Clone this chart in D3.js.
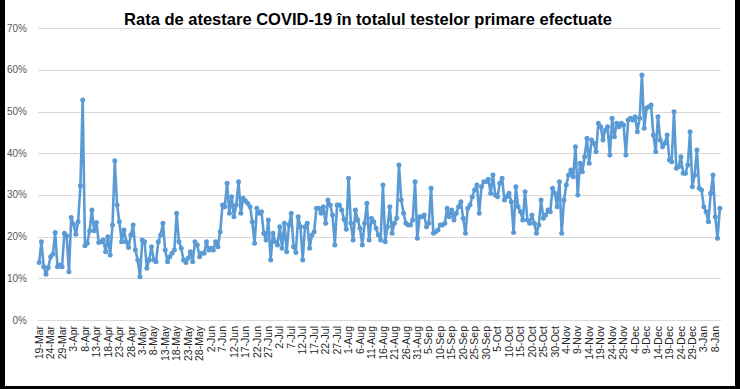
<!DOCTYPE html>
<html>
<head>
<meta charset="utf-8">
<script src="https://cdn.jsdelivr.net/npm/d3@7"></script>
<style>
  body { margin: 0; background: #fff; }
  svg { display: block; font-family: "Liberation Sans", Arial, sans-serif; }
</style>
</head>
<body>
<div class="chart-cont"></div>
<script>
var title = "Rata de atestare COVID-19 în totalul testelor primare efectuate";

// daily positivity rate (%), 19-Mar .. 10-Jan
var rates = [
    13.8, 18.8, 12.8, 11.0, 12.6, 15.2, 15.8, 21.0, 12.8, 13.2,
    12.8, 20.8, 20.2, 11.6, 24.6, 23.0, 20.6, 23.6, 32.2, 52.8,
    17.8, 18.4, 21.4, 26.4, 21.4, 23.4, 18.6, 18.8, 19.2, 16.4,
    20.0, 15.6, 22.8, 38.2, 27.6, 23.6, 18.8, 21.6, 18.8, 17.4,
    20.4, 22.8, 16.8, 14.4, 10.4, 19.2, 18.8, 12.4, 14.4, 17.6,
    14.4, 14.0, 18.8, 20.4, 23.2, 16.8, 14.0, 15.2, 16.0, 16.8,
    25.6, 18.8, 17.2, 14.4, 13.8, 14.8, 16.4, 14.0, 18.8, 18.0,
    15.2, 16.0, 16.0, 18.8, 16.8, 17.2, 16.8, 18.8, 17.6, 21.2,
    27.6, 27.2, 32.8, 25.6, 29.6, 24.8, 27.6, 33.2, 25.6, 29.2,
    28.6, 28.0, 27.2, 23.6, 18.4, 26.8, 25.6, 26.0, 20.8, 19.2,
    24.0, 14.4, 20.8, 18.8, 18.0, 22.4, 17.2, 23.2, 16.4, 22.8,
    25.6, 17.6, 16.2, 24.8, 22.4, 14.4, 22.4, 23.2, 17.2, 20.4,
    21.2, 26.8, 26.8, 25.6, 27.2, 23.2, 28.8, 27.6, 25.2, 18.0,
    27.6, 27.6, 26.4, 24.2, 21.8, 34.0, 23.2, 19.2, 26.4, 24.0,
    22.0, 18.0, 23.2, 28.0, 19.2, 24.4, 23.6, 22.0, 20.4, 19.2,
    32.4, 18.8, 22.4, 27.2, 20.8, 23.2, 24.4, 37.2, 28.8, 25.6,
    23.2, 22.8, 22.8, 24.0, 33.2, 19.6, 24.8, 24.8, 25.2, 22.4,
    23.2, 31.6, 20.8, 21.2, 21.6, 22.8, 22.8, 23.2, 26.8, 24.8,
    26.4, 24.0, 25.6, 27.2, 28.4, 24.4, 20.8, 26.8, 27.6, 29.6,
    31.2, 32.4, 25.6, 32.0, 33.2, 33.2, 33.8, 30.4, 34.8, 30.0,
    29.6, 32.8, 34.0, 28.8, 29.6, 30.4, 28.4, 21.0, 32.0, 27.2,
    26.0, 24.0, 30.8, 24.0, 23.2, 25.2, 23.2, 20.8, 22.8, 28.8,
    24.4, 25.2, 26.4, 26.0, 31.6, 30.4, 27.2, 33.2, 20.8, 28.8,
    32.4, 34.8, 36.0, 34.4, 41.6, 30.0, 37.6, 35.6, 39.2, 43.6,
    37.6, 43.2, 42.4, 40.4, 47.2, 46.4, 43.2, 45.6, 46.4, 39.6,
    48.4, 44.0, 47.2, 46.4, 47.2, 46.8, 39.6, 48.0, 48.4, 48.0,
    48.8, 45.2, 48.4, 58.8, 46.0, 50.8, 51.2, 51.6, 44.4, 40.4,
    48.8, 43.2, 41.6, 42.4, 44.4, 38.4, 38.0, 50.0, 36.4, 36.8,
    39.2, 35.2, 35.2, 37.2, 45.2, 32.0, 34.8, 40.8, 31.6, 31.2,
    27.2, 26.0, 23.6, 30.4, 34.8, 24.8, 19.6, 26.8
];

// one label every 5th day
var dateLabels = [
    "19-Mar", "24-Mar", "29-Mar", "3-Apr", "8-Apr", "13-Apr", "18-Apr", "23-Apr", "28-Apr", "3-May",
    "8-May", "13-May", "18-May", "23-May", "28-May", "2-Jun", "7-Jun", "12-Jun", "17-Jun", "22-Jun",
    "27-Jun", "2-Jul", "7-Jul", "12-Jul", "17-Jul", "22-Jul", "27-Jul", "1-Aug", "6-Aug", "11-Aug",
    "16-Aug", "21-Aug", "26-Aug", "31-Aug", "5-Sep", "10-Sep", "15-Sep", "20-Sep", "25-Sep", "30-Sep",
    "5-Oct", "10-Oct", "15-Oct", "20-Oct", "25-Oct", "30-Oct", "4-Nov", "9-Nov", "14-Nov", "19-Nov",
    "24-Nov", "29-Nov", "4-Dec", "9-Dec", "14-Dec", "19-Dec", "24-Dec", "29-Dec", "3-Jan", "8-Jan"
];
var labelStep = 5;

var yTicks = [0, 10, 20, 30, 40, 50, 60, 70];

var w = 740, h = 389;
var plotLeft = 38, plotRight = 721, plotTop = 28.3, plotBottom = 320;
var lineColor = "#5b9bd5";

var svg = d3.select(".chart-cont").append("svg")
    .attr("width", w)
    .attr("height", h);

svg.append("rect")
    .attr("width", w)
    .attr("height", h)
    .attr("fill", "#ffffff");

var x = d3.scalePoint()
    .domain(d3.range(rates.length))
    .range([plotLeft, plotRight])
    .padding(0.5);

var y = d3.scaleLinear()
    .domain([0, 70])
    .range([plotBottom, plotTop]);

// gridlines
svg.append("g")
    .selectAll("line")
    .data(yTicks)
    .enter().append("line")
    .attr("x1", plotLeft)
    .attr("x2", plotRight)
    .attr("y1", function(d) { return Math.round(y(d)) + 0.5; })
    .attr("y2", function(d) { return Math.round(y(d)) + 0.5; })
    .style("stroke", "#d9d9d9")
    .style("stroke-width", "1px");

// y labels
svg.append("g")
    .selectAll("text")
    .data(yTicks)
    .enter().append("text")
    .attr("x", 27)
    .attr("y", function(d) { return y(d); })
    .attr("dy", "0.35em")
    .attr("text-anchor", "end")
    .style("font-size", "10px")
    .style("fill", "#595959")
    .text(function(d) { return d + "%"; });

// x labels, rotated
svg.append("g")
    .selectAll("text")
    .data(dateLabels)
    .enter().append("text")
    .attr("transform", function(d, i) {
        return "translate(" + x(i * labelStep) + "," + (plotBottom + 6) + ")rotate(-90)";
    })
    .attr("dy", "0.35em")
    .attr("text-anchor", "end")
    .style("font-size", "10.5px")
    .style("fill", "#262626")
    .text(function(d) { return d; });

var line = d3.line()
    .x(function(d, i) { return x(i); })
    .y(function(d) { return y(d); });

svg.append("path")
    .datum(rates)
    .attr("d", line)
    .attr("fill", "none")
    .style("stroke", lineColor)
    .style("stroke-width", "2.6px")
    .style("stroke-linejoin", "round");

svg.append("g")
    .selectAll("circle")
    .data(rates)
    .enter().append("circle")
    .attr("cx", function(d, i) { return x(i); })
    .attr("cy", function(d) { return y(d); })
    .attr("r", 2.5)
    .attr("fill", lineColor);

svg.append("text")
    .attr("x", 368)
    .attr("y", 25)
    .attr("text-anchor", "middle")
    .style("font-size", "16.5px")
    .style("font-weight", "bold")
    .style("fill", "#000")
    .text(title);

// dark frame round the picture
svg.append("rect").attr("x", 0).attr("y", 0).attr("width", 5).attr("height", h).attr("fill", "#000");
svg.append("rect").attr("x", 735).attr("y", 0).attr("width", 5).attr("height", h).attr("fill", "#000");
svg.append("rect").attr("x", 0).attr("y", 386).attr("width", w).attr("height", 3).attr("fill", "#000");
</script>
</body>
</html>
